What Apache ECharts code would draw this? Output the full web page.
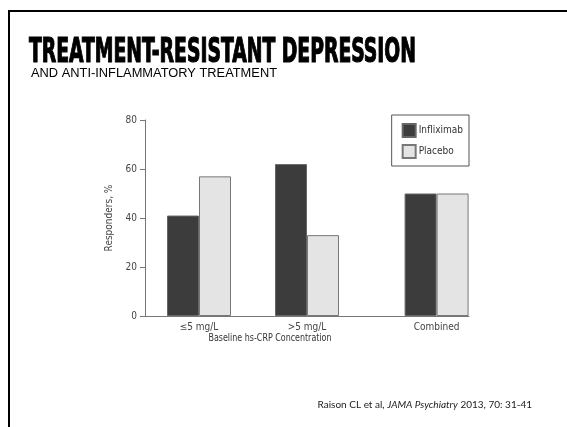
<!DOCTYPE html>
<html><head><meta charset="utf-8">
<script src="https://cdn.jsdelivr.net/npm/echarts@6/dist/echarts.min.js"></script>
<style>html,body{margin:0;padding:0;background:#fff}#c{width:567px;height:427px}</style>
</head><body><div id="c"></div>
<script>
// ---- data ----
const categories = ['≤5 mg/L', '>5 mg/L', 'Combined'];
const infliximab = [41, 62, 50];
const placebo = [57, 33, 50];
const yTicks = [0, 20, 40, 60, 80];
const seriesNames = ['Infliximab', 'Placebo'];
const titleText = 'TREATMENT-RESISTANT DEPRESSION';
const subtitleText = 'AND ANTI-INFLAMMATORY TREATMENT';
const xAxisTitle = 'Baseline hs-CRP Concentration';
const yAxisTitle = 'Responders, %';

// ---- layout: categories placed on a 15-slot band axis (uneven gaps as in the figure) ----
const SLOT_COUNT = 15;
const slotOf = [2, 7, 13];
const slots = Array.from({length: SLOT_COUNT}, () => '');
const infSlots = Array.from({length: SLOT_COUNT}, () => '-');
const plaSlots = Array.from({length: SLOT_COUNT}, () => '-');
categories.forEach((c, i) => { slots[slotOf[i]] = c; infSlots[slotOf[i]] = infliximab[i]; plaSlots[slotOf[i]] = placebo[i]; });

const NARROW = '"Liberation Sans Narrow","DejaVu Sans Condensed",sans-serif';
function measure(text, font) {
  const cv = document.createElement('canvas').getContext('2d');
  cv.font = font; return cv.measureText(text).width;
}
const titleFont = 'bold 34px ' + NARROW;
const titleScale = 387 / measure(titleText, titleFont);
const subFont = '12px "Liberation Sans",Arial,sans-serif';
const subScale = 246 / measure(subtitleText, subFont);
const xtFont = '11px ' + NARROW;
const xtScale = 123 / measure(xAxisTitle, xtFont);

const chart = echarts.init(document.getElementById('c'), null, {renderer: 'canvas'});
chart.setOption({
  backgroundColor: '#fff',
  animation: false,
  grid: {left: 145, right: 98, top: 120, bottom: 111},
  legend: {
    data: seriesNames,
    right: 98, top: 115,
    orient: 'vertical',
    itemWidth: 13, itemHeight: 13, itemGap: 6,
    padding: [8, 6, 7, 10],
    borderColor: '#555', borderWidth: 1,
    icon: 'rect',
    textStyle: {fontFamily: NARROW, fontSize: 10, color: '#333', padding: [0, 0, 0, -2]}
  },
  xAxis: {
    type: 'category', data: slots,
    axisLine: {lineStyle: {color: '#777', width: 1}},
    axisTick: {show: false},
    axisLabel: {interval: 0, color: '#444', fontFamily: NARROW, fontSize: 10, margin: 6}
  },
  yAxis: {
    type: 'value', min: yTicks[0], max: yTicks[yTicks.length - 1], interval: 20,
    name: yAxisTitle, nameLocation: 'middle', nameGap: 29, nameRotate: 90,
    nameTextStyle: {color: '#444', fontFamily: NARROW, fontSize: 10},
    axisLine: {show: true, lineStyle: {color: '#777', width: 1}},
    axisTick: {show: true, length: 5, lineStyle: {color: '#777'}},
    axisLabel: {color: '#444', fontFamily: NARROW, fontSize: 10, margin: 8},
    splitLine: {show: false}
  },
  series: [
    {name: seriesNames[0], type: 'bar', data: infSlots, barWidth: 32, barGap: '0%',
     itemStyle: {color: '#3c3c3c', borderColor: '#666', borderWidth: 1}},
    {name: seriesNames[1], type: 'bar', data: plaSlots, barWidth: 32, barGap: '0%',
     itemStyle: {color: '#e4e4e4', borderColor: '#777', borderWidth: 1}}
  ],
  graphic: [
    {type: 'rect', shape: {x: 9, y: 11, width: 700, height: 600}, style: {fill: 'none', stroke: '#000', lineWidth: 2}, silent: true},
    {type: 'text', x: 29, y: 53, scaleX: titleScale,
     style: {text: titleText, font: titleFont, fill: '#000', stroke: '#000', lineWidth: 1.2, verticalAlign: 'middle'}},
    {type: 'text', x: 31, y: 74, scaleX: subScale,
     style: {text: subtitleText, font: subFont, fill: '#000', verticalAlign: 'middle'}},
    {type: 'text', x: 270, y: 338, scaleX: xtScale,
     style: {text: xAxisTitle, font: xtFont, fill: '#333', align: 'center', verticalAlign: 'middle'}},
    {type: 'text', x: 532, y: 405,
     style: {
       text: '{n|Raison CL et al, }{i|JAMA Psychiatry}{n| 2013, 70: 31-41}',
       align: 'right',
       verticalAlign: 'middle',
       rich: {
         n: {fontFamily: 'Lato', fontSize: 10, fill: '#222'},
         i: {fontFamily: 'Lato', fontSize: 10, fontStyle: 'italic', fill: '#222'}
       }
     }}
  ]
});
</script></body></html>
